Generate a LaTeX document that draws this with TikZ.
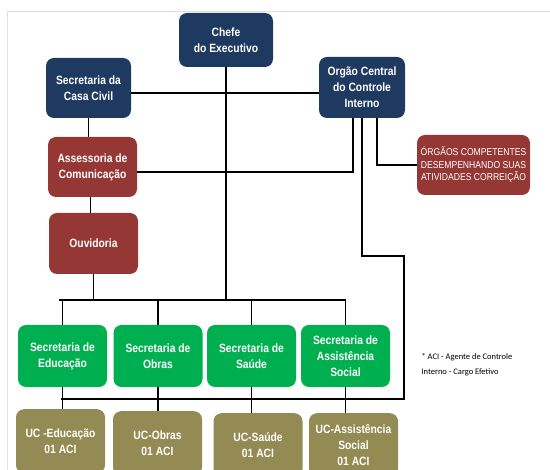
\documentclass[tikz,border=0pt]{standalone}
\usepackage{fontspec}
\setmainfont{Liberation Sans}[FakeStretch=0.86]
\newfontfamily\notefont{Carlito}

\definecolor{navy}{HTML}{1F3A60}
\definecolor{wine}{HTML}{953735}
\definecolor{leaf}{HTML}{00B050}
\definecolor{ucbrown}{HTML}{948A54}

\tikzset{
  box/.style={rounded corners=8pt, inner sep=0pt, align=center, text=white,
    font=\bfseries\fontsize{12}{16}\selectfont},
  link/.style={line width=1.4pt},
}

\begin{document}
\begin{tikzpicture}[x=1pt,y=-1pt]

          \useasboundingbox (0,0) rectangle (550,470);
          \clip (0,0) rectangle (550,470);
          \draw[gray!25, line width=1pt] (550,12) -- (7,12) -- (7,470);

          \node[box, fill=navy, minimum width=94pt, minimum height=54pt] (chefe) at (226,40) {Chefe\\do Executivo};
          \node[box, fill=navy, minimum width=85pt, minimum height=60pt] (casa) at (88.5,88) {Secretaria da\\Casa Civil};
          \node[box, fill=navy, minimum width=86pt, minimum height=61pt] (orgao) at (362,87.5) {Orgão Central\\do Controle\\Interno};

          \node[box, fill=wine, minimum width=89pt, minimum height=60pt] (assess) at (92.5,167) {Assessoria de\\Comunicação};
          \node[box, fill=wine, minimum width=89pt, minimum height=61pt] (ouv) at (93.5,243.5) {Ouvidoria};
          \node[box, fill=wine, minimum width=113pt, minimum height=60pt,
                font=\fontsize{10}{12.5}\selectfont] (correicao) at (473.5,165)
                {ÓRGÃOS COMPETENTES\\DESEMPENHANDO SUAS\\ATIVIDADES CORREIÇÃO};

          % secretarias e unidades de controle
          \foreach \sec/\x/\txt in {edu/62.5/{Secretaria de\\Educação}, obras/158/{Secretaria de\\Obras},
                                     saude/251.5/{Secretaria de\\Saúde}, assist/345.5/{Secretaria de\\Assistência\\Social}}{
            \node[box, fill=leaf, minimum width=89pt, minimum height=62pt] (\sec) at (\x,356) {\txt};
          }

          \foreach \uc/\x/\y/\txt in {ucedu/60.5/409/{UC -Educação\\01 ACI}, ucobras/157.5/411/{UC-Obras\\01 ACI},
                                       ucsaude/258/413/{UC-Saúde\\01 ACI}, ucassist/353.5/413/{UC-Assistência\\Social\\01 ACI}}{
            \node[box, fill=ucbrown, minimum width=89pt, minimum height=64pt, anchor=north] (\uc) at (\x,\y) {\txt};
          }

          \node[anchor=west, align=left, font=\notefont\fontsize{8.5}{15}\selectfont] (nota) at (418,364.5)
                {* ACI - Agente de Controle\\Interno - Cargo Efetivo};

          \coordinate (topbus) at (59,300);
          \coordinate (lowbus) at (61,399);
          \coordinate (bend) at (404,256);

          \draw[link] ([yshift=-5pt]casa.east) -- ([yshift=-5pt]casa.east -| orgao.west);
          \draw[link] (chefe.south) -- (chefe.south |- topbus);
          \draw[link] (casa.south) -- (casa.south |- assess.north);
          \draw[link] ([xshift=-2pt]assess.south) -- ([xshift=-2pt]assess.south |- ouv.north);
          \draw[link] ([yshift=-5pt]assess.east) -| ([xshift=-9pt]orgao.south);
          \draw[link] ([xshift=15pt]orgao.south) |- (correicao.west);
          \draw[link] (orgao.south) |- (bend) |- (lowbus);

          \draw[link] (ouv.south) -- (ouv.south |- topbus);
          \draw[link] (topbus) -- (topbus -| assist.north);
          \foreach \sec in {edu,obras,saude,assist}{
            \draw[link] (\sec.north |- topbus) -- (\sec.north);
          }

          \foreach \sec/\uc in {edu/ucedu,obras/ucobras,saude/ucsaude,assist/ucassist}{
            \draw[link] (\sec.south) -- (\sec.south |- \uc.north);
          }

        \end{tikzpicture}
\end{document}
